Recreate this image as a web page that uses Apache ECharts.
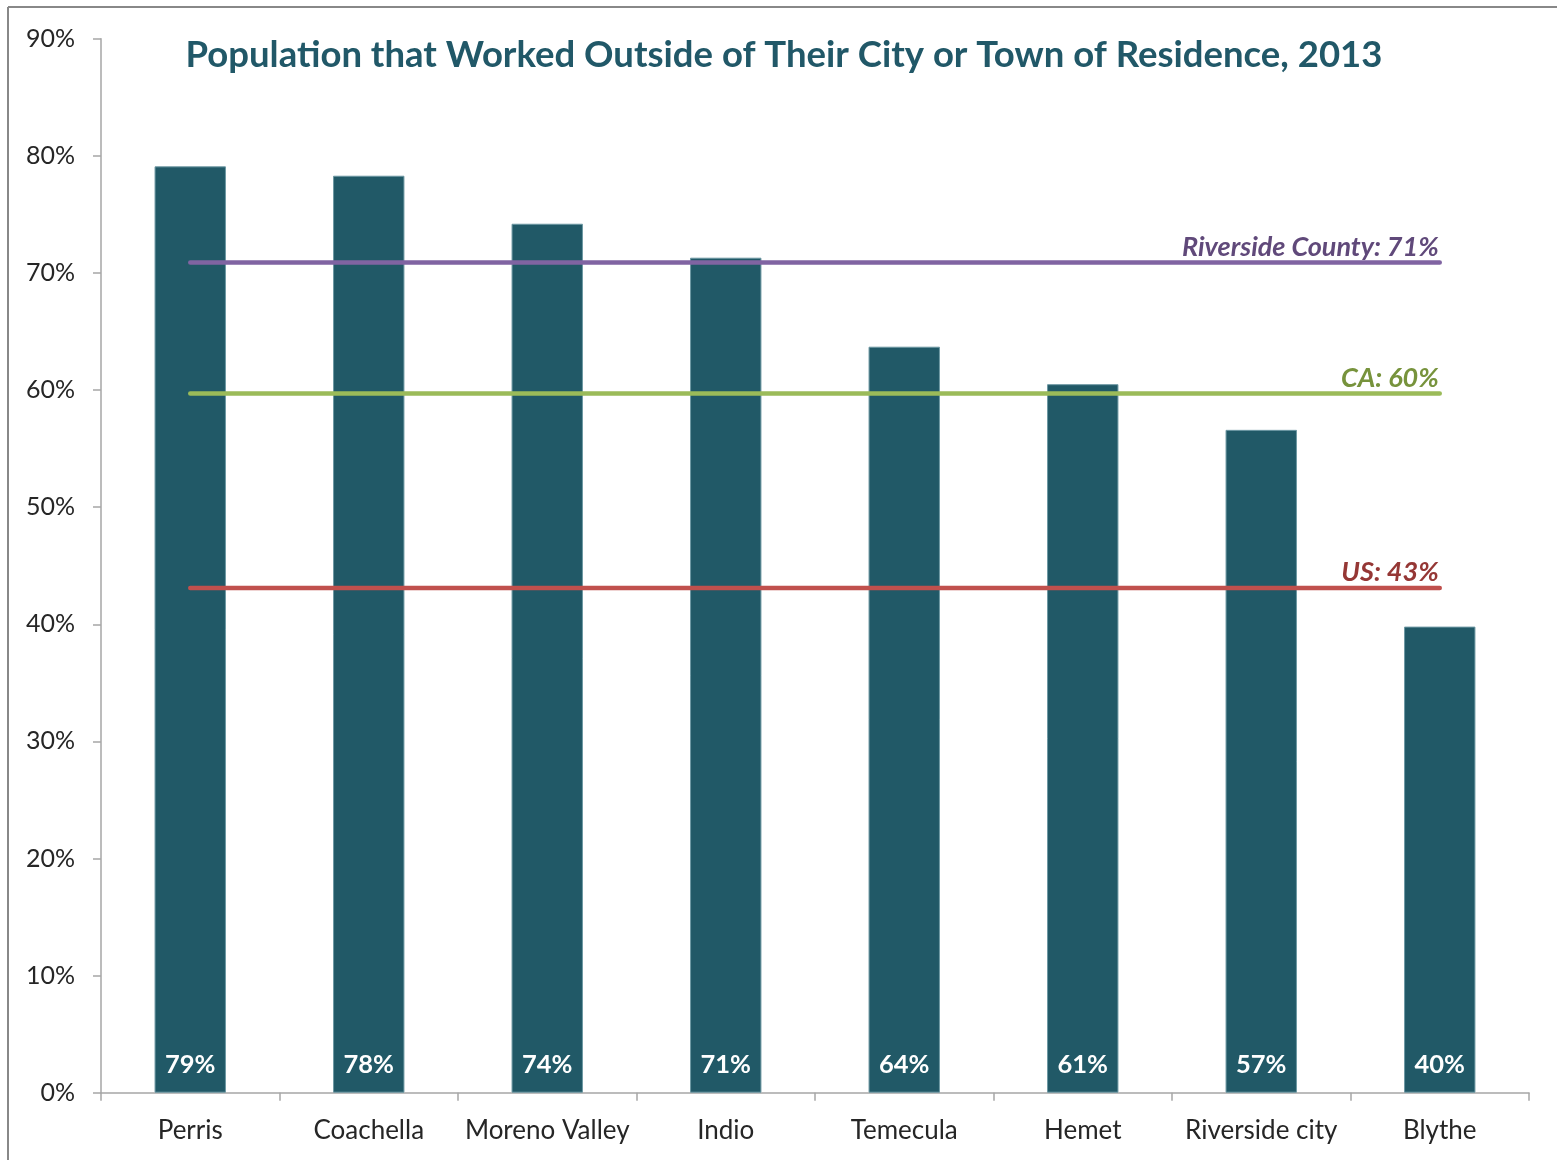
<!DOCTYPE html>
<html>
<head>
<meta charset="utf-8">
<title>Population that Worked Outside of Their City or Town of Residence, 2013</title>
<script src="https://cdn.jsdelivr.net/npm/echarts@6/dist/echarts.min.js"></script>
<style>
  html, body { margin: 0; padding: 0; background: #fff; }
  #chart { width: 1557px; height: 1160px; }
</style>
</head>
<body>
<div id="chart"></div>
<script>
// cities and share of workers commuting out (%)
var cities = ['Perris', 'Coachella', 'Moreno Valley', 'Indio', 'Temecula', 'Hemet', 'Riverside city', 'Blythe'];
var workedOutside = [79.1, 78.3, 74.2, 71.3, 63.7, 60.5, 56.6, 39.8];

// reference levels
var countyLevel = 70.9;
var caLevel = 59.7;
var usLevel = 43.1;
var refNames = ['Riverside County: 71%', 'CA: 60%', 'US: 43%'];

var yTicks = [0, 10, 20, 30, 40, 50, 60, 70, 80, 90];

var fontFam = 'Lato, "Open Sans", sans-serif';

// flat line across all categories, label only on the last point
function refLine(level) {
  var arr = [];
  for (var i = 0; i < cities.length; i++) {
    if (i === cities.length - 1) {
      arr.push({ value: level, label: { show: true } });
    } else {
      arr.push(level);
    }
  }
  return arr;
}

function lineSeries(level, name, lineColor, textColor) {
  return {
    name: name,
    type: 'line',
    data: refLine(level),
    symbol: 'circle',
    symbolSize: 0,
    lineStyle: { color: lineColor, width: 4.5, cap: 'round' },
    itemStyle: { color: lineColor },
    label: {
      show: false,
      position: 'top',
      align: 'right',
      distance: 2,
      offset: [-1, 0],
      formatter: name,
      color: textColor,
      fontFamily: fontFam,
      fontSize: 27,
      fontWeight: 'bold',
      fontStyle: 'italic'
    },
    emphasis: { disabled: true },
    z: 3
  };
}

var chart = echarts.init(document.getElementById('chart'));
chart.setOption({
  animation: false,
  backgroundColor: '#fff',
  title: {
    text: 'Population that Worked Outside of Their City or Town of Residence, 2013',
    left: 779,
    top: 32,
    textAlign: 'center',
    textStyle: {
      color: '#215868',
      fontFamily: fontFam,
      fontSize: 36.5,
      fontWeight: 'bold'
    }
  },
  graphic: [
    { type: 'line', shape: { x1: 8, y1: 7, x2: 1557, y2: 7 }, style: { stroke: '#888', lineWidth: 2 } },
    { type: 'line', shape: { x1: 8, y1: 7, x2: 8, y2: 1160 }, style: { stroke: '#888', lineWidth: 2 } }
  ],
  grid: { left: 101, right: 28, top: 38.7, bottom: 67.3, containLabel: false },
  xAxis: {
    type: 'category',
    data: cities,
    boundaryGap: true,
    axisLine: { lineStyle: { color: '#a6a6a6', width: 1.5 } },
    axisTick: { show: true, interval: 0, length: 8, lineStyle: { color: '#a6a6a6', width: 1.5 } },
    axisLabel: {
      interval: 0,
      margin: 25,
      color: '#262626',
      fontFamily: fontFam,
      fontSize: 26
    },
    splitLine: { show: false }
  },
  yAxis: {
    type: 'value',
    min: yTicks[0],
    max: yTicks[yTicks.length - 1],
    interval: 10,
    axisLine: { show: true, lineStyle: { color: '#a6a6a6', width: 1.5 } },
    axisTick: { show: true, length: 8, lineStyle: { color: '#a6a6a6', width: 1.5 } },
    axisLabel: {
      margin: 26,
      color: '#262626',
      fontFamily: fontFam,
      fontSize: 25,
      formatter: '{value}%'
    },
    splitLine: { show: false }
  },
  series: [
    {
      name: 'Worked outside city',
      type: 'bar',
      data: workedOutside,
      barWidth: '40%',
      itemStyle: { color: '#215967', borderColor: '#6d98a3', borderWidth: 1 },
      label: {
        show: true,
        position: 'insideBottom',
        distance: 15,
        color: '#fff',
        fontFamily: fontFam,
        fontSize: 25.5,
        fontWeight: 'bold',
        formatter: function (p) { return Math.round(p.value) + '%'; }
      },
      emphasis: { disabled: true },
      z: 2
    },
    lineSeries(countyLevel, refNames[0], '#8064a2', '#60497a'),
    lineSeries(caLevel, refNames[1], '#9bbb59', '#77933c'),
    lineSeries(usLevel, refNames[2], '#c0504d', '#953735')
  ]
});
</script>
</body>
</html>
